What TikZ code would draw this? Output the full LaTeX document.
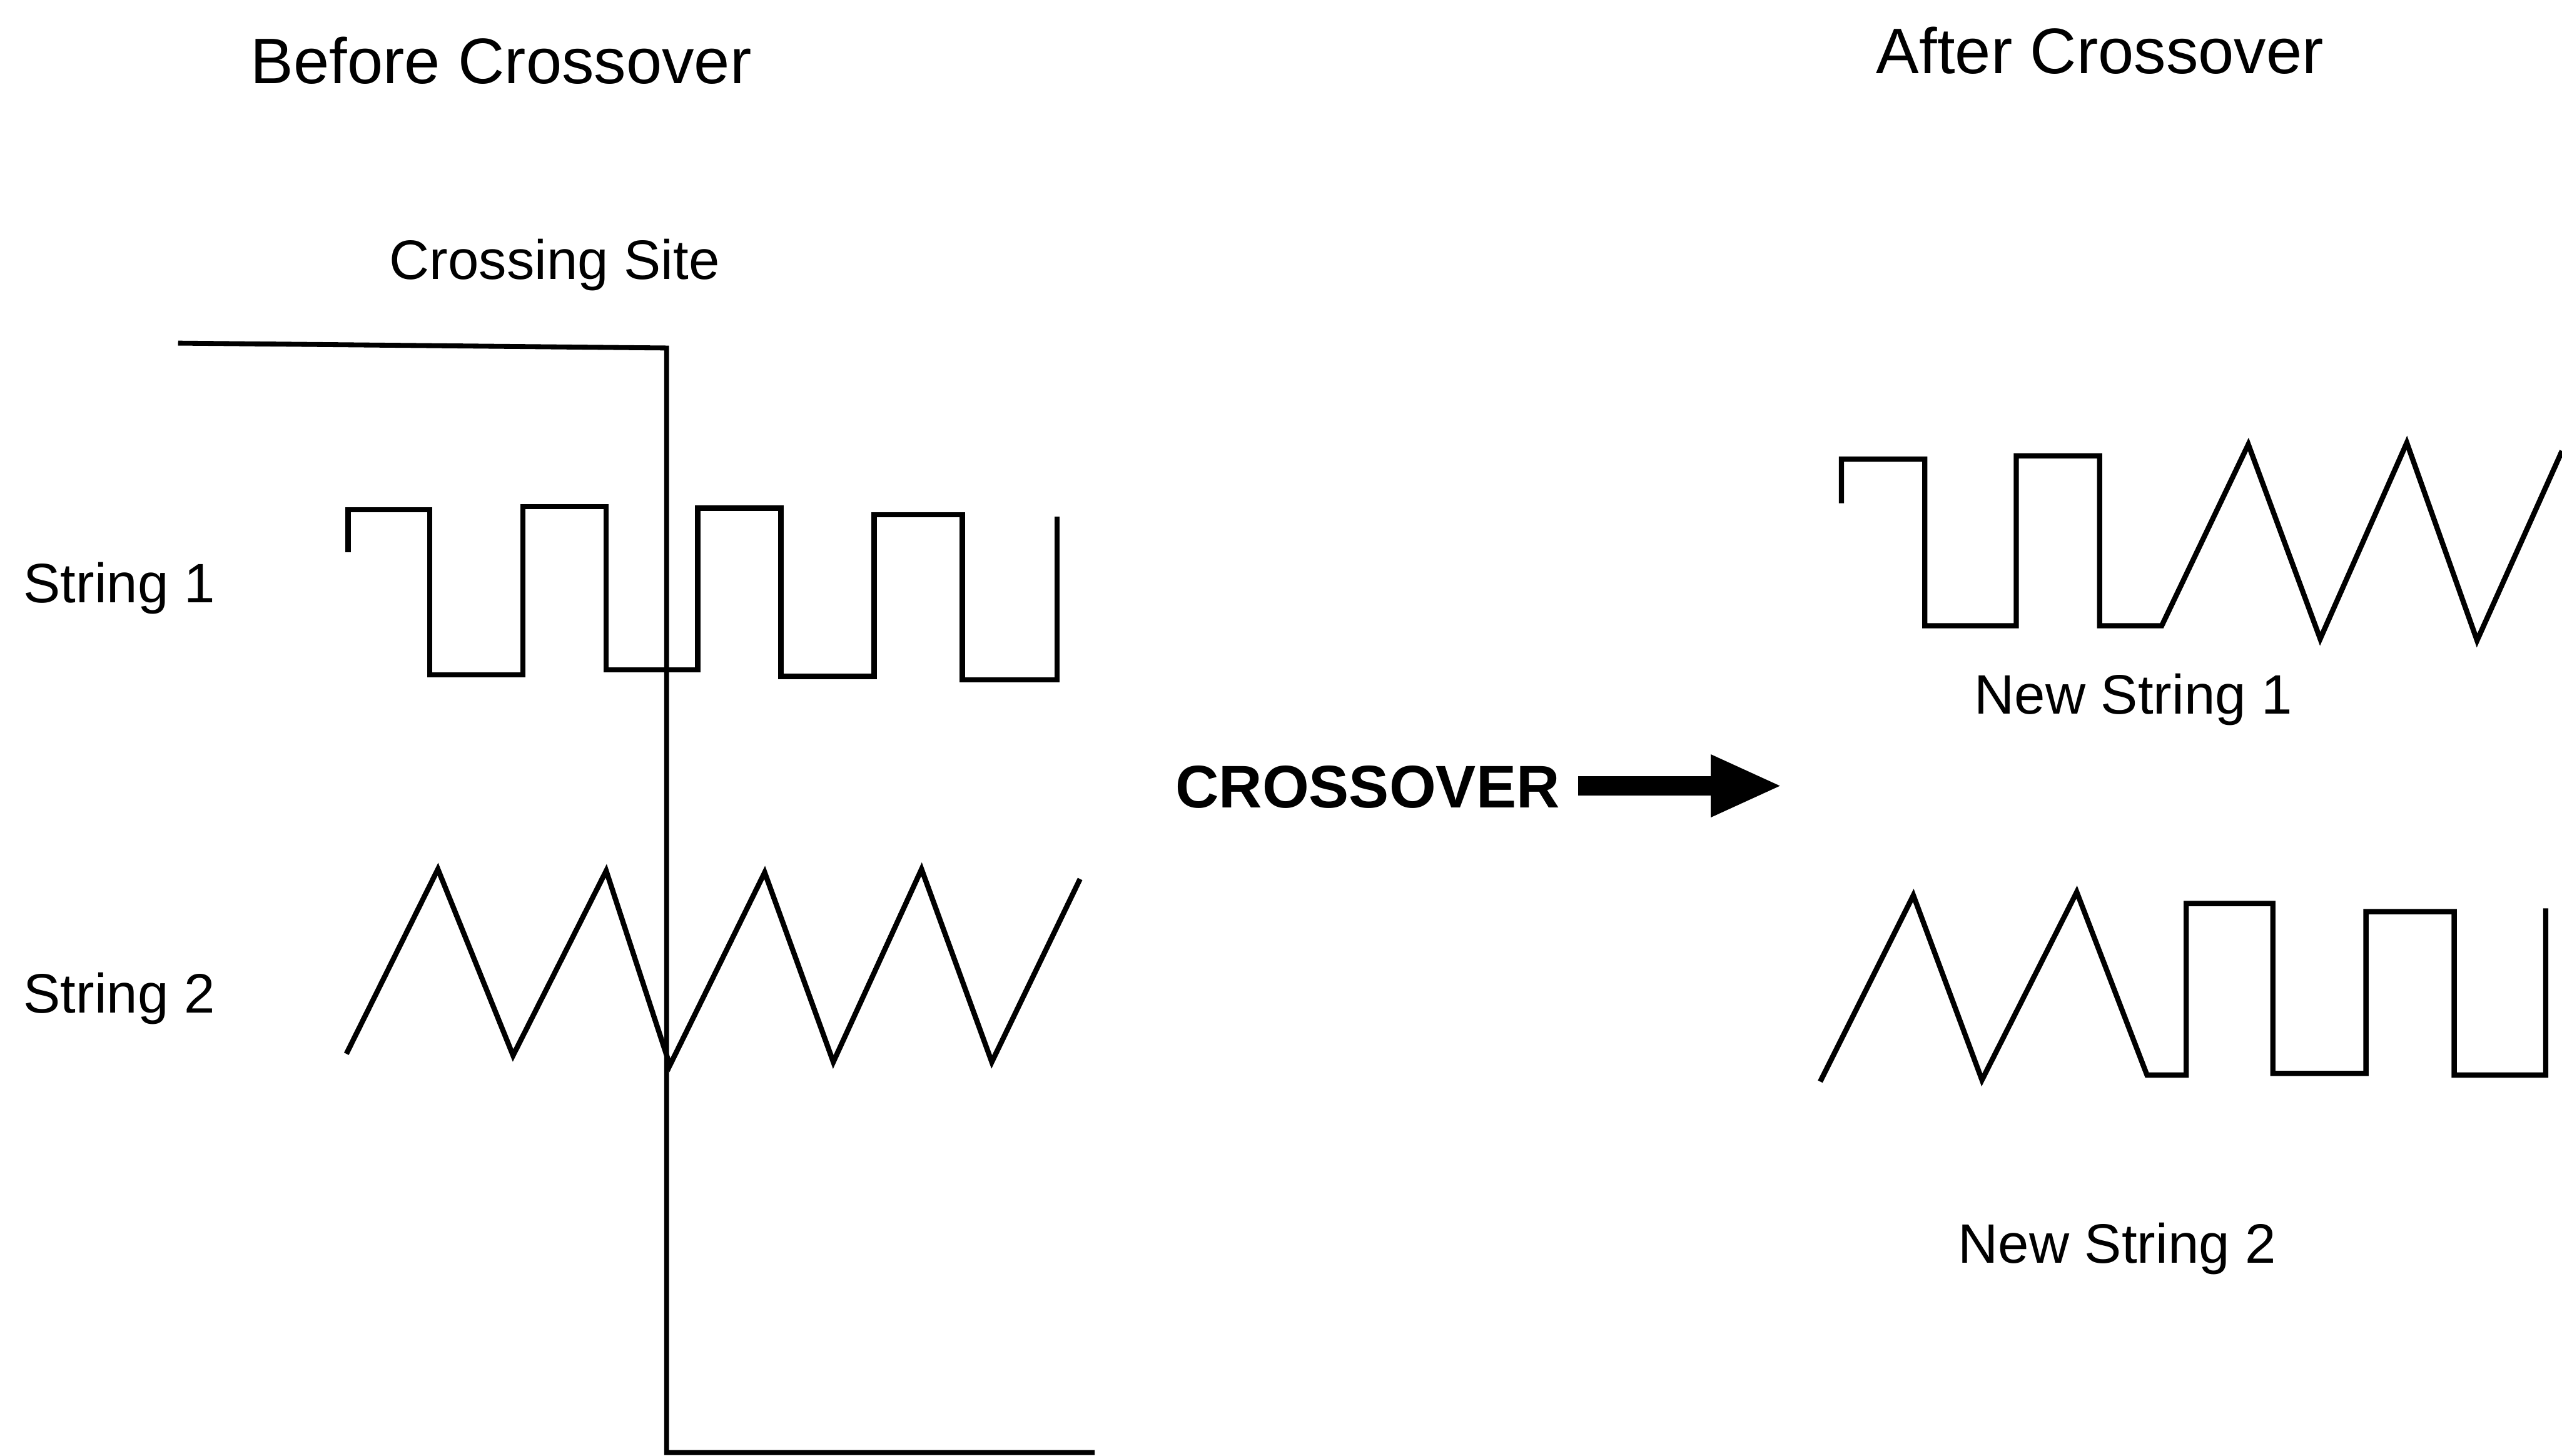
\documentclass[tikz,border=0pt]{standalone}
\usepackage{fontspec}
\setmainfont{Liberation Sans}
\usetikzlibrary{arrows.meta}
\begin{document}
\begin{tikzpicture}[x=0.5pt,y=-0.5pt,
  title/.style={anchor=base west, inner sep=0pt, font=\fontsize{19.7pt}{23pt}\selectfont},
  lbl/.style={anchor=base west, inner sep=0pt, font=\fontsize{17pt}{20pt}\selectfont},
  bold/.style={anchor=base west, inner sep=0pt, font=\fontsize{18.4pt}{22pt}\selectfont\bfseries},
  wave/.style={line width=1.6pt, line join=miter},
  site/.style={line width=1.5pt}]
\useasboundingbox (0,0) rectangle (1568,891);
% titles and labels
\node[title] (before) at (153,51) {Before Crossover};
\node[title] (after) at (1148,45) {After Crossover};
\node[lbl] (site) at (238,171) {Crossing Site};
\node[lbl] (s1) at (14,369) {String 1};
\node[lbl] (s2) at (14,620) {String 2};
\node[lbl] (ns1) at (1208,437) {New String 1};
\node[lbl] (ns2) at (1198,773) {New String 2};
\node[bold] (xo) at (719,494.5) {CROSSOVER};
% crossing site line
\coordinate (cs1) at (109,210);
\coordinate (cs2) at (408,213);
\coordinate (cs3) at (408,889);
\coordinate (cs4) at (670,889);
\draw[site] (cs1) -- (cs2) -- (cs3) -- (cs4);
% crossover arrow
\coordinate (tip) at (1091,481);
\draw[line width=6pt, -{Triangle[length=22pt,width=17.5pt]}] (966,481) -- (tip);
% string 1 (square wave)
\draw[wave] (213,338) -- (213,312) -- (263,312) -- (263,413) -- (320,413) -- (320,310)
  -- (371,310) -- (371,410) -- (427,410) -- (427,311) -- (478,311) -- (478,414)
  -- (535,414) -- (535,315) -- (589,315) -- (589,416) -- (647,416) -- (647,316);
% string 2 (triangle wave)
\draw[wave] (212,645) -- (268,532) -- (314,646) -- (371,533) -- (410,652) -- (468,534)
  -- (510,650) -- (564,532) -- (607,650) -- (661,538);
% new string 1
\draw[wave] (1127,308) -- (1127,281) -- (1178,281) -- (1178,383) -- (1234,383) -- (1234,279)
  -- (1285,279) -- (1285,383) -- (1323,383) -- (1376,272) -- (1420,391) -- (1473,271)
  -- (1516,392) -- (1568,276);
% new string 2
\draw[wave] (1114,662) -- (1171,548) -- (1213,661) -- (1271,546) -- (1314,658) -- (1338,658)
  -- (1338,553) -- (1391,553) -- (1391,657) -- (1448,657) -- (1448,558) -- (1502,558)
  -- (1502,658) -- (1558,658) -- (1558,556);
\end{tikzpicture}
\end{document}
